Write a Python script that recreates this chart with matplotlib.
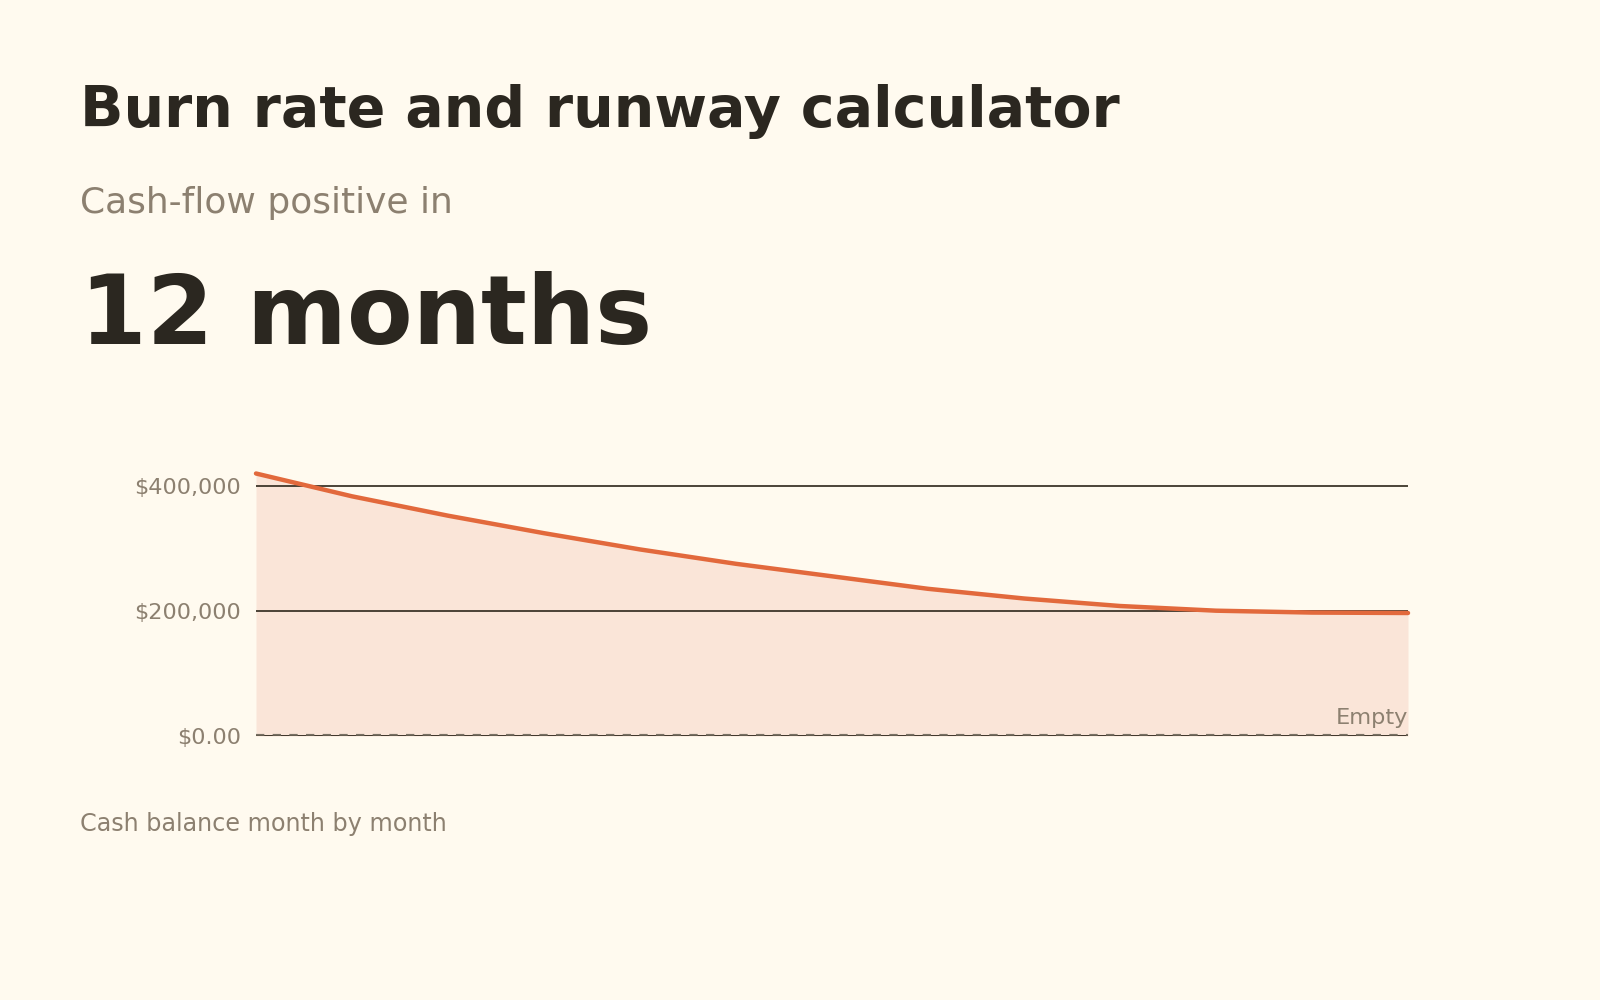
import matplotlib
matplotlib.use("Agg")
import matplotlib.pyplot as plt
from matplotlib.ticker import FixedLocator

# cash balance at the end of each month
months = list(range(13))
balance = [420000, 383500, 352500, 324500, 298500, 275500, 255500,
           235500, 220000, 208000, 200500, 197500, 196800]
tick_vals = [0, 200000, 400000]
tick_labels = ["$0.00", "$200,000", "$400,000"]

BG = "#fffaef"
INK = "#2b2720"
MUTED = "#8c8070"
ORANGE = "#e2693c"
FILL = "#fae5d8"
GRID = "#3d3529"

plt.rcParams["font.family"] = ["DejaVu Sans"]

fig = plt.figure(figsize=(16, 10), dpi=100, facecolor=BG)

fig.text(0.05, 1 - 127/1000, "Burn rate and runway calculator",
         fontsize=41, fontweight="bold", color=INK, va="baseline")
fig.text(0.05, 1 - 213/1000, "Cash-flow positive in",
         fontsize=25.9, color=MUTED, va="baseline")
fig.text(0.05, 1 - 344/1000, "12 months",
         fontsize=69, fontweight="bold", color=INK, va="baseline")
fig.text(0.05, 1 - 824/1000, "Cash balance month by month",
         fontsize=17.2, color=MUTED, va="center")

ax = fig.add_axes([0.16, 0.264, 0.72, 0.2625])
ax.set_facecolor(BG)
ax.set_xlim(0, 12)
ax.set_ylim(0, 420000)

ax.fill_between(months, balance, 0, color=FILL, lw=0, zorder=1)
for v in tick_vals[1:]:
    ax.axhline(v, color=GRID, lw=1.3, zorder=2)
# zero line: solid rule with a dashed "empty" marker over it
ax.axhline(0, color=GRID, lw=1.4, zorder=2)
ax.axhline(0, color="#6a6356", lw=3.0, ls=(0, (2, 2)), alpha=0.9, zorder=3)
ax.plot(months, balance, color=ORANGE, lw=3.2, solid_capstyle="round",
        clip_on=False, zorder=4)

ax.text(12, 12500, "Empty", ha="right", va="bottom", fontsize=16.2,
        color=MUTED)

ax.yaxis.set_major_locator(FixedLocator(tick_vals))
ax.set_yticklabels(tick_labels)
ax.tick_params(axis="y", length=0, pad=11, labelsize=16.1, labelcolor=MUTED)
ax.set_xticks([])
for s in ax.spines.values():
    s.set_visible(False)

fig.savefig("out.png", dpi=100, facecolor=BG)
